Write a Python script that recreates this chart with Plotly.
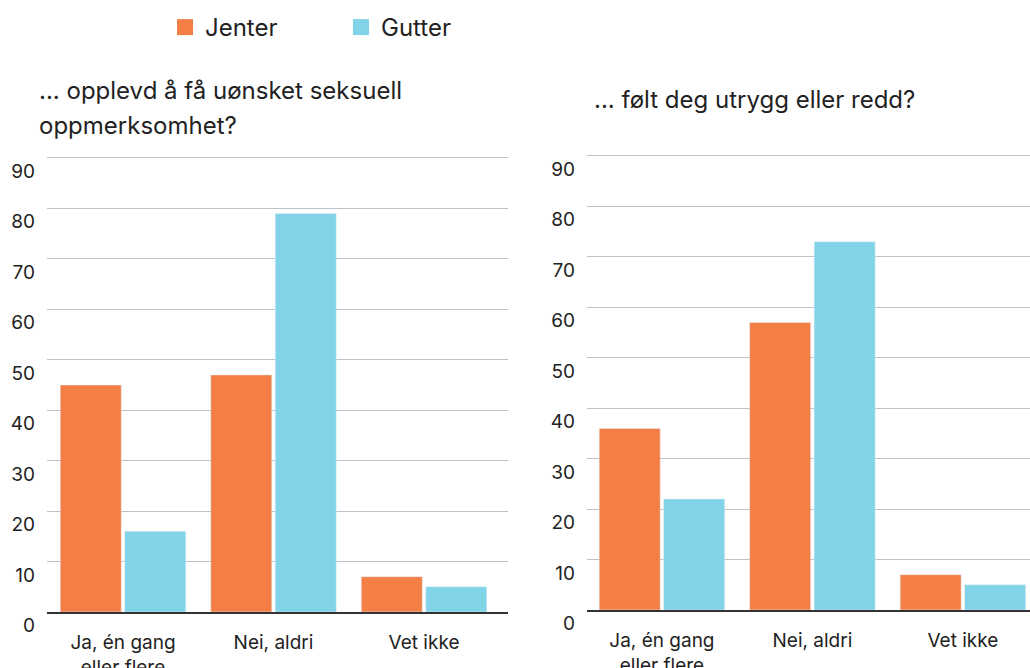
import plotly.graph_objects as go

categories = ["Ja, én gang<br>eller flere", "Nei, aldri", "Vet ikke"]
jenter_left = [45, 47, 7]
gutter_left = [16, 79, 5]
jenter_right = [36, 57, 7]
gutter_right = [22, 73, 5]
y_ticks = [0, 10, 20, 30, 40, 50, 60, 70, 80, 90]
title_left_lines = ["... opplevd å få uønsket seksuell", "oppmerksomhet?"]
title_right = "... følt deg utrygg eller redd?"

ORANGE = "#F47F46"
BLUE = "#81D3E7"
FONT = "Inter"
TXT = "#222222"
W, H = 1030, 668

fig = go.Figure()
fig.add_trace(go.Bar(x=categories, y=jenter_left, marker_color=ORANGE, name="Jenter",
                     showlegend=False, xaxis="x", yaxis="y"))
fig.add_trace(go.Bar(x=categories, y=gutter_left, marker_color=BLUE, name="Gutter",
                     showlegend=False, xaxis="x", yaxis="y"))
fig.add_trace(go.Bar(x=categories, y=jenter_right, marker_color=ORANGE, name="Jenter",
                     showlegend=False, xaxis="x2", yaxis="y2"))
fig.add_trace(go.Bar(x=categories, y=gutter_right, marker_color=BLUE, name="Gutter",
                     showlegend=False, xaxis="x2", yaxis="y2"))
# legend entries
for nm, col in [("Jenter", ORANGE), ("Gutter", BLUE)]:
    fig.add_trace(go.Scatter(x=[None], y=[None], mode="markers", name=nm,
                             marker=dict(symbol="square", size=25, color=col),
                             xaxis="x", yaxis="y"))

def py(p):
    return 1 - p / H

YMAX = 91
l_unit = (612 - 158) / 90
r_unit = (610 - 156) / 90
ydom_l = [py(612), py(612 - YMAX * l_unit)]
ydom_r = [py(610), py(610 - YMAX * r_unit)]

grid = "#BCC3C8"
axis_common_y = dict(range=[0, YMAX], tickvals=y_ticks, showgrid=True, gridcolor=grid,
                     gridwidth=1, zeroline=False, showline=False, ticks="",
                     ticklabelposition="outside bottom", ticklabelstandoff=11,
                     automargin=False,
                     tickfont=dict(family=FONT, size=19, color=TXT))
axis_common_x = dict(showgrid=False, zeroline=False, showline=True, linecolor="#333",
                     linewidth=2, ticks="", ticklabelstandoff=12, automargin=False,
                     tickfont=dict(family=FONT, size=19, color=TXT))

annotations = []
for i, line in enumerate(title_left_lines):
    annotations.append(dict(text=line, xref="paper", yref="paper", x=37 / W,
                            y=py(90 + 35 * i), xanchor="left", yanchor="middle",
                            align="left", showarrow=False,
                            font=dict(family=FONT, size=24, color=TXT)))
annotations.append(dict(text=title_right, xref="paper", yref="paper", x=592 / W,
                        y=py(100), xanchor="left", yanchor="middle", align="left",
                        showarrow=False, font=dict(family=FONT, size=24, color=TXT)))

fig.update_layout(
    width=W, height=H,
    margin=dict(l=0, r=0, t=0, b=0),
    paper_bgcolor="white", plot_bgcolor="white",
    barmode="group", bargap=0.143, bargroupgap=0.054,
    font=dict(family=FONT, color=TXT),
    xaxis=dict(domain=[47 / W, 508 / W], range=[-0.505, 2.558], anchor="y", **axis_common_x),
    yaxis=dict(domain=ydom_l, anchor="x", **axis_common_y),
    xaxis2=dict(domain=[587 / W, 1.0], range=[-0.498, 2.446], anchor="y2", **axis_common_x),
    yaxis2=dict(domain=ydom_r, anchor="x2", **axis_common_y),
    legend=dict(orientation="h", x=165 / W, y=py(5), xanchor="left", yanchor="top",
                font=dict(family=FONT, size=24, color=TXT),
                entrywidth=131, entrywidthmode="pixels", itemsizing="trace"),
    annotations=annotations,
)

fig.write_html("out.html")
